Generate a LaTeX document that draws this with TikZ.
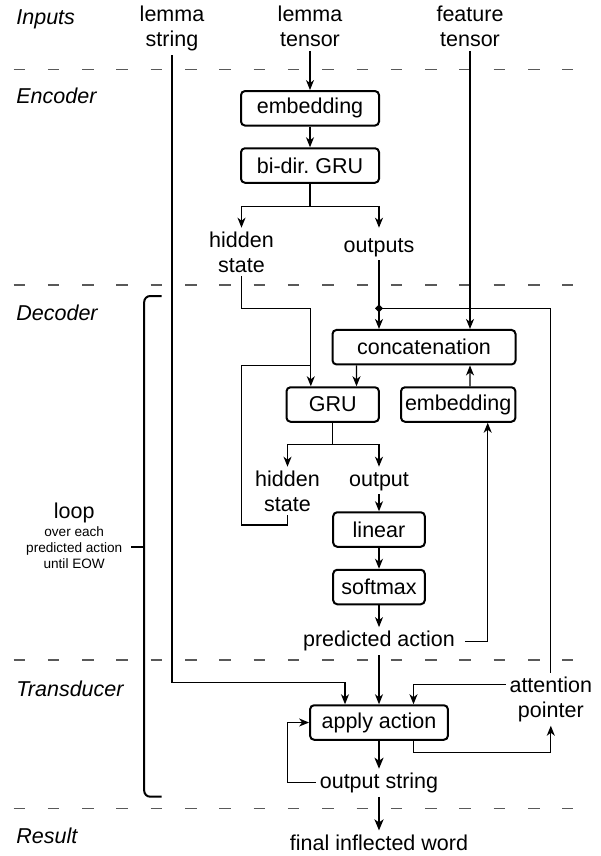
\documentclass[tikz,border=0pt]{standalone}
\usepackage{fontspec}
\setmainfont{Liberation Sans}
\usetikzlibrary{arrows.meta}
\begin{document}
\begin{tikzpicture}[x=0.5pt,y=-0.5pt,
    font=\fontsize{10.75}{12.5}\selectfont,
    blk/.style={draw, line width=1pt, rounded corners=2pt, inner sep=1pt, minimum height=17.25pt},
    lbl/.style={inner sep=0pt, outer sep=2pt, align=center},
    sect/.style={inner sep=0pt, anchor=base west, font=\fontsize{10.75}{12.5}\selectfont\itshape},
    note/.style={inner sep=0pt, align=center, font=\fontsize{6.8}{7.85}\selectfont},
    conn/.style={line width=0.6pt},
    arr/.style={conn, -{Stealth[length=5pt,width=4pt,inset=1.5pt]}},
    thickarr/.style={line width=1pt, -{Stealth[length=5.5pt,width=4.5pt,inset=1.5pt]}},
    divider/.style={black!65, line width=0.6pt, dash pattern=on 5.75pt off 11.4pt},
    brc/.style={line width=1pt, rounded corners=3pt}]

  \useasboundingbox (0,0) rectangle (600,856);

  \foreach \y in {69.3,285,660,808.3}
    \draw[divider] (13.5,\y) -- (573,\y);

  \node[sect] (inputs) at (16,25) {Inputs};
  \node[sect] (encoder) at (16,104) {Encoder};
  \node[sect] (decoder) at (16,320) {Decoder};
  \node[sect] (transducer) at (16,696) {Transducer};
  \node[sect] (result) at (16,843.3) {Result};

  \node[lbl, anchor=north] (lstr) at (172,2) {lemma\\string};
  \node[lbl, anchor=north] (lten) at (310,2) {lemma\\tensor};
  \node[lbl, anchor=north] (ften) at (470,2) {feature\\tensor};

  \node[blk, minimum width=69pt] (emb1) at (310,108.3) {embedding};
  \node[blk, minimum width=69pt] (bigru) at (310,165.5) {bi-dir.\ GRU};
  \node[lbl, anchor=north] (hid1) at (241.5,227.7) {hidden\\state};
  \node[lbl, anchor=base] (outs) at (379,252) {outputs};

  \node[blk, minimum width=91.5pt] (concat) at (424,347.2) {concatenation};
  \node[blk, minimum width=46.2pt] (gru) at (332.7,404.5) {GRU};
  \node[blk, minimum width=57.2pt] (emb2) at (458.2,404.5) {embedding};
  \node[lbl, anchor=north] (hid2) at (287.5,466.7) {hidden\\state};
  \node[lbl, anchor=base] (out2) at (379,486) {output};
  \node[blk, minimum width=45.8pt] (linear) at (379,529.5) {linear};
  \node[blk, minimum width=45.8pt] (softmax) at (379,587) {softmax};
  \node[lbl, anchor=base] (pred) at (379,646.7) {predicted action};

  \node[lbl, anchor=north] (att) at (550.8,672.7) {attention\\pointer};
  \node[blk, minimum width=68.9pt] (apply) at (379,722.5) {apply action};
  \node[lbl, anchor=base] (outstr) at (379,788.3) {output string};
  \node[lbl, anchor=base] (final) at (379,850) {final inflected word};

  \node[lbl, anchor=base] (loop) at (74.2,518.3) {loop};
  \node[note, anchor=north] (loopnote) at (74.2,526.7) {over each\\predicted action\\until EOW};

  \draw[brc] (161.5,296) -- (144.2,296) -- (144.2,796.7) -- (161.5,796.7);
  \draw[brc] (144.2,546.7) -- (130.8,546.7);

  \coordinate (dmd) at (379,308.3);

  \draw[arr] (lten.south) -- (emb1.north);
  \draw[arr] (emb1) -- (bigru);
  \draw[conn] (bigru.south) -- ++(0,-11.5pt) coordinate (encsplit);
  \draw[arr] (encsplit) -| (hid1.north);
  \draw[arr] (encsplit) -| (outs.north |- hid1.north);

  \draw[arr] (outs.south) -- (outs.south |- concat.north);
  \draw[arr] (ften.south) -- (ften.south |- concat.north);
  \draw[arr] (hid1.south) |- ([xshift=-10.95pt]gru.north |- dmd) -- ([xshift=-10.95pt]gru.north);
  \draw[arr] ([xshift=-33.75pt]concat.south) -- ([xshift=11.9pt]gru.north);
  \draw[arr] ([xshift=5.9pt]emb2.north) -- ([xshift=23pt]concat.south);
  \draw[conn] (hid2.south) -- ++(0,-4.8pt) -| (hid1.south |- concat.south) -- ([xshift=-10.95pt]gru.north |- concat.south);

  \draw[conn] (gru.south) -- ++(0,-11pt) coordinate (decsplit);
  \draw[arr] (decsplit) -| (hid2.north);
  \draw[arr] (decsplit) -| (out2.north |- hid2.north);
  \draw[arr] (out2.south) -- (linear.north);
  \draw[arr] (linear) -- (softmax);
  \draw[arr] (softmax) -- (pred.north);
  \draw[arr] ([xshift=3pt]pred.east) -| ([xshift=14.75pt]emb2.south);

  \draw[arr] (pred.south) -- (apply.north);
  \draw[arr] (lstr.south) |- ([xshift=-17pt,yshift=11pt]apply.north) -- ([xshift=-17pt]apply.north);
  \draw[arr] ([yshift=7.5pt]att.west) -| ([xshift=17.25pt]apply.north);
  \draw[arr] ([xshift=17.25pt]apply.south) -- ++(0,-6pt) -| (att.south);
  \draw[conn, -{Diamond[length=4pt,width=4pt]}, shorten >=-2pt] (att.north) |- (dmd);
  \draw[thickarr] (apply) -- (outstr.north);
  \draw[arr] (outstr.west) -- ++(-14pt,0) |- (apply.west);
  \draw[thickarr] (outstr.south) -- (final.north);
\end{tikzpicture}
\end{document}
